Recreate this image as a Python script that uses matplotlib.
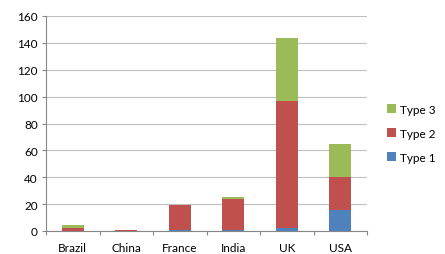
import matplotlib
matplotlib.use("Agg")
import matplotlib.pyplot as plt
import numpy as np

categories = ["Brazil", "China", "France", "India", "UK", "USA"]
type1 = [0, 0, 1, 1, 2, 16]
type2 = [2.5, 1, 18, 22.5, 95, 24]
type3 = [2, 0, 0, 2, 47, 24.5]
yticks = [0, 20, 40, 60, 80, 100, 120, 140, 160]

plt.rcParams['font.family'] = ['Lato', 'DejaVu Sans']
fig = plt.figure(figsize=(4.45, 2.55), dpi=100)
ax = fig.add_axes([46/445, 23/255, 321/445, 215/255])

x = np.arange(len(categories)) + 0.5
w = 0.41
t1 = np.array(type1); t2 = np.array(type2); t3 = np.array(type3)
b1 = ax.bar(x, t1, w, color="#4F81BD", label="Type 1", zorder=3)
b2 = ax.bar(x, t2, w, bottom=t1, color="#C0504D", label="Type 2", zorder=3)
b3 = ax.bar(x, t3, w, bottom=t1 + t2, color="#9BBB59", label="Type 3", zorder=3)

fs = 8.5
ax.set_xlim(0, len(categories))
ax.set_ylim(0, 160)
ax.set_yticks(yticks)
ax.set_yticklabels([str(v) for v in yticks], fontsize=fs)
ax.yaxis.grid(True, color="#BFBFBF", linewidth=0.8, zorder=0)
ax.set_xticks(np.arange(len(categories) + 1))
ax.set_xticklabels([])
ax.set_xticks(x, minor=True)
ax.set_xticklabels(categories, minor=True, fontsize=fs)
ax.tick_params(axis='x', which='minor', length=0, pad=8)
ax.tick_params(axis='x', which='major', length=3, color="#868686")
ax.tick_params(axis='y', length=3, color="#868686", pad=3)
for s in ["top", "right"]:
    ax.spines[s].set_visible(False)
for s in ["left", "bottom"]:
    ax.spines[s].set_color("#868686")
    ax.spines[s].set_linewidth(0.8)

leg = ax.legend(handles=[b3, b2, b1], loc="center left", bbox_to_anchor=(1.03, 0.455),
                frameon=False, fontsize=fs, handlelength=0.75, handleheight=0.75,
                handletextpad=0.3, labelspacing=1.1)

fig.savefig("out.png", dpi=100)
